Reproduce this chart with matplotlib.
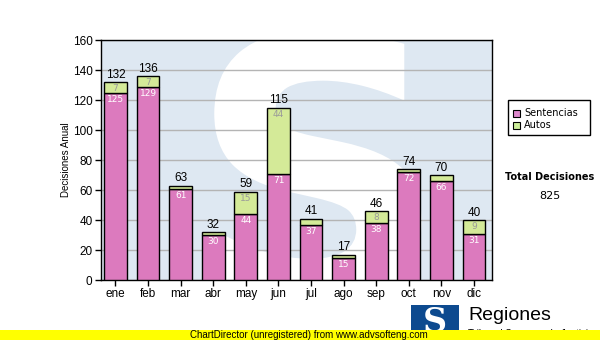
import matplotlib.pyplot as plt
from matplotlib.patches import Rectangle, PathPatch
from matplotlib.textpath import TextPath
from matplotlib.font_manager import FontProperties
from matplotlib.transforms import Affine2D

meses = ['ene', 'feb', 'mar', 'abr', 'may', 'jun', 'jul', 'ago', 'sep', 'oct', 'nov', 'dic']
sentencias = [125, 129, 61, 30, 44, 71, 37, 15, 38, 72, 66, 31]
autos = [7, 7, 2, 2, 15, 44, 4, 2, 8, 2, 4, 9]
yticks = [0, 20, 40, 60, 80, 100, 120, 140, 160]

totales = [s + a for s, a in zip(sentencias, autos)]
x = list(range(len(meses)))

fig = plt.figure(figsize=(6, 3.4), dpi=100)
ax = fig.add_axes([0.168, 0.176, 0.652, 0.706])
ax.set_facecolor('#dee8f2')

# watermark "S" stretched into a box (axes fraction)
sp = TextPath((0, 0), 'S', size=1, prop=FontProperties(family='DejaVu Sans', weight='bold'))
ext = sp.get_extents()
x0, x1, y0, y1 = 0.29, 0.82, -0.12, 1.04
tr = Affine2D().translate(-ext.x0, -ext.y0).scale((x1 - x0) / ext.width,
                                                  (y1 - y0) / ext.height).translate(x0, y0)
wm = PathPatch(tr.transform_path(sp), transform=ax.transAxes, facecolor='white',
               edgecolor='none', zorder=0.5)
ax.add_patch(wm)
wm.set_clip_path(ax.patch)

ax.set_axisbelow(True)
ax.grid(axis='y', color='#b4b4b4', linewidth=1)

w = 0.7
ax.bar(x, sentencias, w, color='#dc7abe', edgecolor='black', linewidth=1, zorder=3)
ax.bar(x, autos, w, bottom=sentencias, color='#d4ea98', edgecolor='black', linewidth=1, zorder=3)

for i in x:
    ax.text(i, totales[i] + 0.8, str(totales[i]), ha='center', va='bottom',
            fontsize=8.5, family='Liberation Sans', color='black', zorder=4)
    ax.text(i, sentencias[i] - 1.5, str(sentencias[i]), ha='center', va='top',
            fontsize=6.5, color='white', zorder=4)
    if autos[i] >= 6:
        ax.text(i, totales[i] - 1.3, str(autos[i]), ha='center', va='top',
                fontsize=6.5, color='#9a9a9a', zorder=4)

ax.set_xlim(-0.45, 11.55)
ax.set_ylim(0, 160)
ax.set_yticks(yticks)
ax.set_xticks(x)
ax.set_xticklabels(meses)
for lab in ax.get_xticklabels() + ax.get_yticklabels():
    lab.set_family('Liberation Sans')
    lab.set_fontsize(8.5)
ax.tick_params(length=4, width=1, color='black', pad=2)
ax.set_ylabel('Decisiones Anual', fontsize=7, family='Liberation Sans', labelpad=1)
for s in ax.spines.values():
    s.set_linewidth(1)

# legend box
fig.patches.append(Rectangle((508 / 600, 1 - 135 / 340), 82 / 600, 35 / 340,
                             transform=fig.transFigure, facecolor='white',
                             edgecolor='black', linewidth=1))
fig.patches.append(Rectangle((513 / 600, 1 - 117 / 340), 7 / 600, 7 / 340,
                             transform=fig.transFigure, facecolor='#dd88cc',
                             edgecolor='black', linewidth=0.8))
fig.patches.append(Rectangle((513 / 600, 1 - 129 / 340), 7 / 600, 7 / 340,
                             transform=fig.transFigure, facecolor='#ccee99',
                             edgecolor='black', linewidth=0.8))
fig.text(524 / 600, 1 - 113.5 / 340, 'Sentencias', fontsize=7, va='center')
fig.text(524 / 600, 1 - 125.5 / 340, 'Autos', fontsize=7, va='center')

fig.text(550 / 600, 1 - 177 / 340, 'Total Decisiones', fontsize=7, fontweight='bold',
         ha='center', va='center')
fig.text(550 / 600, 1 - 196 / 340, str(sum(totales)), fontsize=8, ha='center', va='center')

# logo
fig.patches.append(Rectangle((411 / 600, 0), 48 / 600, 35 / 340,
                             transform=fig.transFigure, facecolor='#0d4a8f',
                             edgecolor='none'))
fig.text(435 / 600, 18 / 340, 'S', fontsize=24, fontweight='bold', family='DejaVu Serif',
         color='white', ha='center', va='center')
fig.text(468 / 600, 1 - 316 / 340, 'Regiones', fontsize=14, family='Liberation Sans',
         ha='left', va='center')
fig.text(468 / 600, 1 - 334 / 340, 'Tribunal Supremo de Justicia', fontsize=7,
         family='Liberation Sans', ha='left', va='center')

# footer
fig.patches.append(Rectangle((0, 0), 1, 10 / 340, transform=fig.transFigure,
                             facecolor='#ffff00', edgecolor='none', zorder=5))
fig.text(190 / 600, 5 / 340, 'ChartDirector (unregistered) from www.advsofteng.com',
         fontsize=7, family='Liberation Sans', ha='left', va='center', zorder=6)

fig.savefig('out.png', dpi=100)
